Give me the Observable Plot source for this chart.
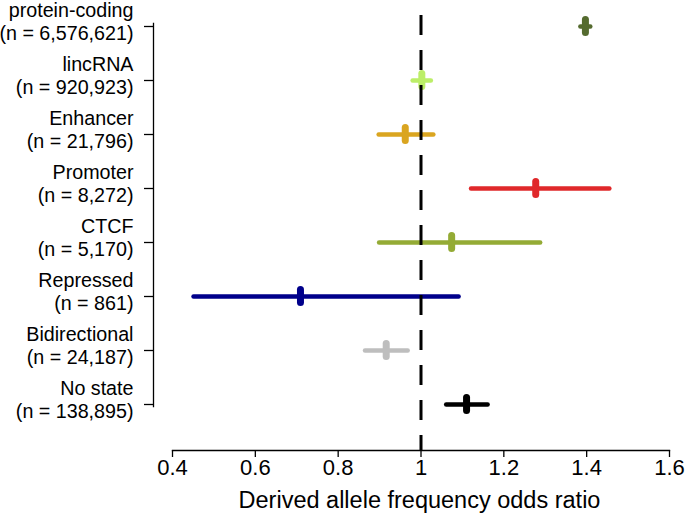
<!DOCTYPE html>
<html>
<head>
<meta charset="utf-8">
<script src="https://cdn.jsdelivr.net/npm/d3@7"></script>
<script src="https://cdn.jsdelivr.net/npm/@observablehq/plot@0.6"></script>
<style>
  html, body { margin: 0; padding: 0; background: #fff; }
</style>
</head>
<body>
<div id="chart"></div>
<script>
const categories = ["protein-coding", "lincRNA", "Enhancer", "Promoter", "CTCF", "Repressed", "Bidirectional", "No state"];
const counts = [6576621, 920923, 21796, 8272, 5170, 861, 24187, 138895];
const estimates = [1.397, 1.002, 0.962, 1.277, 1.074, 0.709, 0.916, 1.110];
const lower = [1.386, 0.981, 0.899, 1.122, 0.900, 0.452, 0.866, 1.062];
const upper = [1.410, 1.025, 1.031, 1.456, 1.289, 1.092, 0.969, 1.162];
const colors = ["#556B2F", "#BCEE68", "#DAA520", "#E0282A", "#94AB35", "#00008B", "#BEBEBE", "#000000"];
const xTicks = [0.4, 0.6, 0.8, 1, 1.2, 1.4, 1.6];
const xLabel = "Derived allele frequency odds ratio";
const refValue = 1;

const fmt = d3.format(",");
const rows = categories.map((c, i) => ({
  cat: c, n: counts[i], est: estimates[i], lo: lower[i], hi: upper[i], color: colors[i]
}));
const labelOf = Object.fromEntries(categories.map((c, i) => [c, `${c}\n(n = ${fmt(counts[i])})`]));

const chart = Plot.plot({
  width: 685,
  height: 516,
  marginTop: 15,
  marginBottom: 66,
  marginLeft: 153,
  marginRight: 16,
  style: { fontFamily: "'Liberation Sans', Arial, Helvetica, sans-serif", fontSize: "20px", background: "#fff", color: "#000" },
  x: { domain: [xTicks[0], xTicks[xTicks.length - 1]], range: [172, 669] },
  y: { type: "point", domain: categories, range: [23, 406], padding: 0, align: 0.5 },
  color: { type: "identity" },
  marks: [
    Plot.frame({ anchor: "left", insetTop: 8, insetBottom: 44, strokeWidth: 1.3 }),
    Plot.frame({ anchor: "bottom", insetLeft: 19, strokeWidth: 1.3 }),
    Plot.axisY({ tickSize: 9, tickFormat: () => "", label: null, strokeWidth: 1.3 }),
    Plot.axisY({ tickSize: 0, tickPadding: 20, tickFormat: d => labelOf[d], fontSize: 19.7, lineHeight: 1.15, dy: -5, label: null }),
    Plot.axisX({ ticks: xTicks, tickFormat: d => String(d), tickSize: 7, tickPadding: 2, fontSize: 22, label: null, strokeWidth: 1.3 }),
    Plot.text([xLabel], { frameAnchor: "bottom", dy: 57.5, dx: 8, fontSize: 23.5 }),
    Plot.ruleY(rows, { y: "cat", x1: "lo", x2: "hi", stroke: "color", strokeWidth: 4.5, strokeLinecap: "round" }),
    Plot.ruleX(rows, { x: "est", y1: "cat", y2: "cat", insetTop: -6.5, insetBottom: -6.5, stroke: "color", strokeWidth: 7, strokeLinecap: "round" }),
    Plot.ruleX([refValue], { stroke: "#000", strokeWidth: 3, strokeDasharray: "20,15" })
  ]
});
document.getElementById("chart").appendChild(chart);
</script>
</body>
</html>
